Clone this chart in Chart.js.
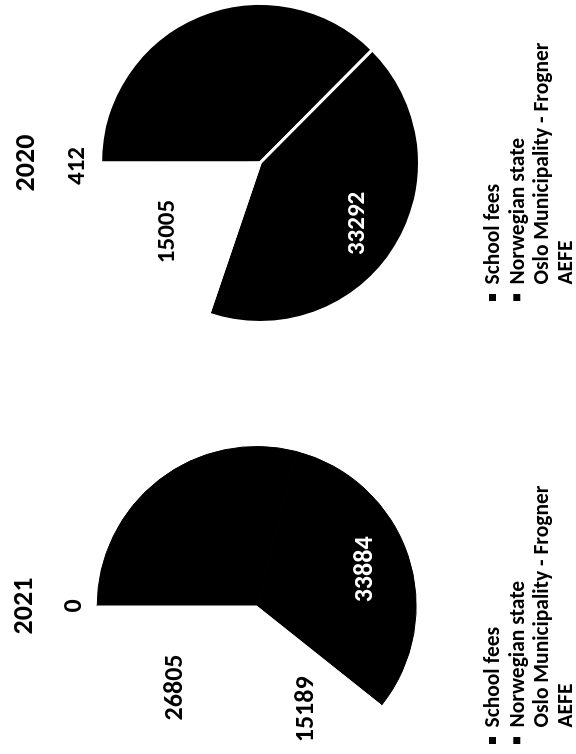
<!DOCTYPE html>
<html>
<head>
<meta charset="utf-8">
<title>School funding 2021 / 2020</title>
<script src="https://cdn.jsdelivr.net/npm/chart.js@4.4.0/dist/chart.umd.min.js"></script>
<style>
  html, body { margin: 0; padding: 0; background: #fff; overflow: hidden; }
  body { width: 576px; height: 754px; position: relative; }
  /* sheet is laid out landscape, then turned a quarter to the left */
  #sheet { position: absolute; left: 0; top: 0; width: 754px; height: 576px;
           transform-origin: 0 0; transform: translateY(754px) rotate(-90deg); }
  #sheet canvas { position: absolute; top: 0; }
</style>
</head>
<body>
<div id="sheet">
  <canvas id="chart2021" width="340" height="576" style="left:-22px"></canvas>
  <canvas id="chart2020" width="340" height="576" style="left:421px"></canvas>
</div>
<script>
const categories = ['School fees', 'Norwegian state', 'Oslo Municipality - Frogner', 'AEFE', 'Other'];
const values2021 = [30960, 33884, 15189, 26805, 0];
const values2020 = [29150, 33292, 15005, null, 412];

const sliceColors = ['#000000', '#000000', '#ffffff', '#ffffff', '#ffffff'];
// value label colour per slice (null = no label)
const labelColors = [null, '#ffffff', '#000000', '#000000', '#000000'];

const fontFamily = 'Carlito, Calibri, Lato, sans-serif';

// value labels: inside the slice, or just outside the rim for tiny slices
const sliceLabels = {
    id: 'sliceLabels',
    afterDatasetsDraw(chart, args, opts) {
        const ctx = chart.ctx;
        const ds = chart.data.datasets[0];
        const total = ds.data.reduce((s, v) => s + (v || 0), 0);
        ctx.save();
        ctx.font = 'bold ' + opts.size + 'px ' + fontFamily;
        ctx.textAlign = 'center';
        ctx.textBaseline = 'middle';
        chart.getDatasetMeta(0).data.forEach((arc, i) => {
            const v = ds.data[i];
            if (v === null || !labelColors[i]) return;
            const p = arc.getProps(['x', 'y', 'startAngle', 'endAngle', 'outerRadius'], true);
            const mid = (p.startAngle + p.endAngle) / 2;
            const dist = v / total < 0.02 ? p.outerRadius * 1.14 : p.outerRadius * 0.72;
            ctx.fillStyle = labelColors[i];
            ctx.fillText(String(v), p.x + Math.cos(mid) * dist, p.y + Math.sin(mid) * dist);
        });
        ctx.restore();
    }
};

// one entry per line under the pie
const stackedLegend = {
    id: 'stackedLegend',
    afterDraw(chart, args, opts) {
        const ctx = chart.ctx;
        ctx.save();
        ctx.font = 'bold 21.5px ' + fontFamily;
        ctx.textBaseline = 'middle';
        ctx.textAlign = 'left';
        chart.data.labels.forEach((label, i) => {
            const y = opts.top + i * opts.rowHeight;
            ctx.fillStyle = sliceColors[i];
            ctx.fillRect(opts.left, y - 5, 7, 7);
            ctx.fillStyle = '#000';
            ctx.fillText(label, opts.left + 16.5, y);
        });
        ctx.restore();
    }
};

function makePie(id, year, values, border, labelSize, pad, titlePad) {
    return new Chart(document.getElementById(id), {
        type: 'pie',
        data: {
            labels: categories,
            datasets: [{
                data: values,
                backgroundColor: sliceColors,
                borderColor: border.color,
                borderWidth: border.width
            }]
        },
        plugins: [sliceLabels, stackedLegend],
        options: {
            responsive: false,
            animation: false,
            layout: { padding: pad },
            plugins: {
                legend: { display: false },
                tooltip: { enabled: false },
                title: {
                    display: true,
                    text: year,
                    color: '#000',
                    font: { family: fontFamily, size: 28, weight: 'bold' },
                    padding: titlePad
                },
                sliceLabels: { size: labelSize },
                stackedLegend: { left: 32, top: 494, rowHeight: 24.3 }
            }
        }
    });
}

// 2021: slices outlined in their own colour, 2020: white gaps between slices
makePie('chart2021', '2021', values2021, { color: sliceColors, width: 1 }, 26,
    { left: 10, right: 10, top: 0, bottom: 122.6 }, { top: 8, bottom: 18.4 });
makePie('chart2020', '2020', values2020, { color: '#ffffff', width: 3 }, 25,
    { left: 9, right: 9, top: 0, bottom: 116 }, { top: 10, bottom: 16.4 });
</script>
</body>
</html>
